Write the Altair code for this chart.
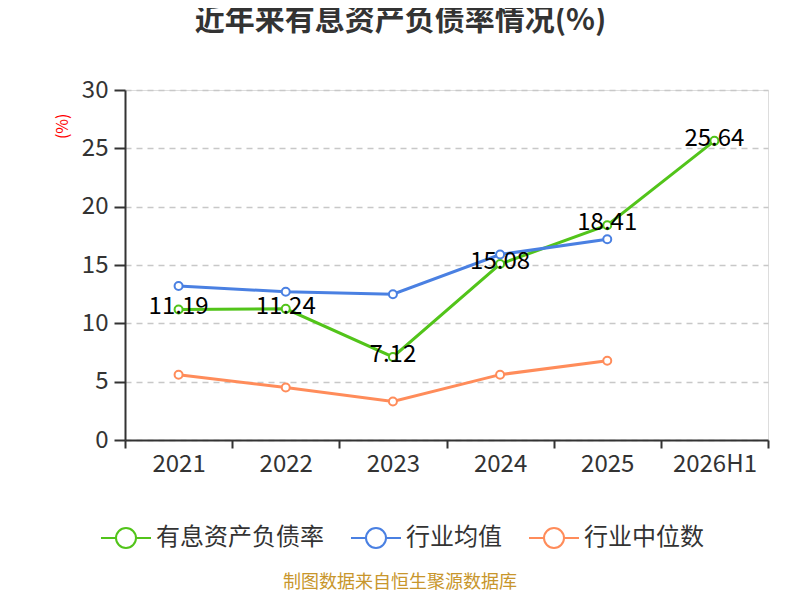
import altair as alt
import pandas as pd

years = ["2021", "2022", "2023", "2024", "2025", "2026H1"]
debt_ratio = [11.19, 11.24, 7.12, 15.08, 18.41, 25.64]
industry_avg = [13.2, 12.7, 12.5, 15.9, 17.2]
industry_median = [5.6, 4.5, 3.3, 5.6, 6.8]
series_names = ["有息资产负债率", "行业均值", "行业中位数"]
colors = ["#52c41a", "#4a80e2", "#ff8c5a"]
y_ticks = [0, 5, 10, 15, 20, 25, 30]
title_text = "近年来有息资产负债率情况(%)"
source_text = "制图数据来自恒生聚源数据库"

rows = []
for name, vals in zip(series_names, [debt_ratio, industry_avg, industry_median]):
    for yr, v in zip(years, vals):
        rows.append({"year": yr, "value": v, "series": name})
df = pd.DataFrame(rows)
df_main = df[df["series"] == series_names[0]].copy()
df_main["label"] = df_main["value"].map(lambda v: f"{v:.2f}")

FONT = "Noto Sans CJK SC"
LEGEND_PATH = "M-2.5,0L-1,0M1,0L2.5,0M1,0A1,1,0,1,1,-1,0A1,1,0,1,1,1,0"

x_enc = alt.X(
    "year:N",
    sort=years,
    bandPosition=0.5,
    scale=alt.Scale(type="band", domain=years, paddingInner=0, paddingOuter=0),
    axis=alt.Axis(
        title=None,
        labelAngle=0,
        tickBand="extent",
        grid=False,
        domainColor="#333333",
        domainWidth=2,
        tickColor="#333333",
        tickWidth=2,
        tickSize=8,
        labelFontSize=24,
        labelColor="#333333",
        labelPadding=4,
        labelFont=FONT,
    ),
)
y_enc = alt.Y(
    "value:Q",
    scale=alt.Scale(domain=[0, 30], nice=False, zero=True),
    axis=alt.Axis(
        values=y_ticks,
        grid=True,
        gridDash=[6, 5],
        gridColor="#c8c8c8",
        gridWidth=1.5,
        domainColor="#333333",
        domainWidth=2,
        tickColor="#333333",
        tickWidth=2,
        tickSize=11,
        labelFontSize=24,
        labelColor="#333333",
        labelPadding=6,
        labelFont=FONT,
        title="(%)",
        titleColor="red",
        titleFontSize=16,
        titleFontWeight="normal",
        titleFont=FONT,
        titleAngle=270,
        titleX=-63,
        titleY=23,
        titleAlign="right",
        titleBaseline="middle",
    ),
)
color_enc = alt.Color(
    "series:N",
    scale=alt.Scale(domain=series_names, range=colors),
    legend=alt.Legend(
        title=None,
        orient="none",
        legendX=-11,
        legendY=436,
        direction="horizontal",
        labelFontSize=24,
        labelColor="#333333",
        labelFont=FONT,
        labelLimit=400,
        symbolType=LEGEND_PATH,
        symbolSize=400,
        symbolStrokeWidth=2,
        symbolFillColor="white",
        labelOffset=18,
        columnPadding=23,
        padding=0,
    ),
)

base = alt.Chart(df)
lines = base.mark_line(strokeWidth=3).encode(x=x_enc, y=y_enc, color=color_enc)
points = base.mark_point(shape="circle", filled=False, fill="white", size=64,
                         strokeWidth=2, opacity=1).encode(x=x_enc, y=y_enc, color=color_enc)
labels = alt.Chart(df_main).mark_text(fontSize=24, color="black", baseline="middle",
                                      dy=-2, font=FONT).encode(x=x_enc, y=y_enc, text="label:N")
source = alt.Chart(pd.DataFrame({"t": [source_text]})).mark_text(
    fontSize=18, color="#c8962c", font=FONT, baseline="middle", align="center"
).encode(text="t:N", x=alt.value(275), y=alt.value(493))

chart = alt.layer(lines, points, labels, source).properties(
    width=643,
    height=350,
    autosize=alt.AutoSizeParams(type="none"),
    padding={"left": 117, "top": 82, "right": 24, "bottom": 152},
    title=alt.TitleParams(
        title_text,
        fontSize=30,
        fontWeight="bold",
        color="#333333",
        font=FONT,
        anchor="middle",
        frame="group",
        dx=-46,
        baseline="middle",
        offset=27,
    ),
).configure_view(stroke=None).configure(font=FONT)

chart.save("out.html", embed_options={"renderer": "svg", "actions": False})
